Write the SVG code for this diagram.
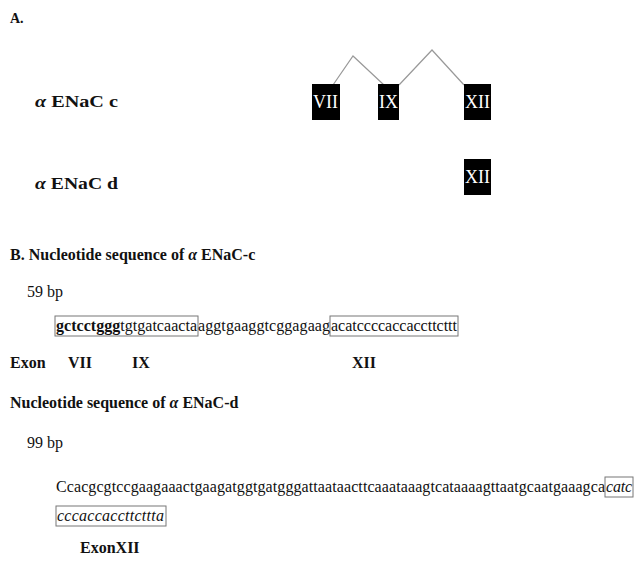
<svg xmlns="http://www.w3.org/2000/svg" width="637" height="582" viewBox="0 0 637 582">
<style>
text{font-family:"Liberation Serif","Times New Roman",serif;fill:#111}
.b{font-weight:bold}
.lbl{font-size:16px;font-weight:bold}
.seq{font-size:16px}
.it{font-style:italic}
.ex{fill:#000}
.ext{fill:#fff;font-size:18px}
.conn{fill:none;stroke:#999;stroke-width:1.2}
.sbox{fill:none;stroke:#777;stroke-width:1}
</style>
<rect width="637" height="582" fill="#fff"/>
<g id="panelA">
<text x="10" y="23" class="b" font-size="14">A.</text>
<text x="35" y="107" class="lbl" font-size="17" textLength="83" lengthAdjust="spacingAndGlyphs"><tspan class="it">α</tspan> ENaC c</text>
<text x="35" y="189" class="lbl" font-size="17" textLength="83" lengthAdjust="spacingAndGlyphs"><tspan class="it">α</tspan> ENaC d</text>
</g>
<g id="connectors">
<polyline class="conn" points="333,85 353,56 384,85"/>
<polyline class="conn" points="399,85 432,50 464,85"/>
</g>
<g id="exonVII"><rect class="ex" x="312" y="84" width="28" height="36"/><text class="ext" x="313" y="108">VII</text></g>
<g id="exonIX"><rect class="ex" x="378" y="84" width="21" height="36"/><text class="ext" x="379" y="108">IX</text></g>
<g id="exonXIIc"><rect class="ex" x="464" y="84" width="27" height="36"/><text class="ext" x="465" y="108">XII</text></g>
<g id="exonXIId"><rect class="ex" x="464" y="159" width="27" height="36"/><text class="ext" x="465" y="183">XII</text></g>
<g id="panelB">
<text x="10" y="260" class="lbl">B. Nucleotide sequence of <tspan class="it">α</tspan> ENaC-c</text>
<text x="27" y="297" class="seq">59 bp</text>
<rect class="sbox" x="55" y="316" width="143" height="20"/>
<rect class="sbox" x="330" y="316" width="128" height="20"/>
<text x="56" y="331" class="seq" textLength="141"><tspan class="b">gctcctggg</tspan>tgtgatcaacta</text>
<text x="198" y="331" class="seq" textLength="132">aggtgaaggtcggagaag</text>
<text x="331" y="331" class="seq" textLength="126">acatccccaccaccttcttt</text>
<text x="10" y="368" class="lbl">Exon</text>
<text x="68" y="368" class="lbl">VII</text>
<text x="132" y="368" class="lbl">IX</text>
<text x="352" y="368" class="lbl">XII</text>
<text x="10" y="408" class="lbl">Nucleotide sequence of <tspan class="it">α</tspan> ENaC-d</text>
<text x="27" y="448" class="seq">99 bp</text>
<text x="56" y="492" class="seq" textLength="549">Ccacgcgtccgaagaaactgaagatggtgatgggattaataacttcaaataaagtcataaaagttaatgcaatgaaagca</text>
<rect class="sbox" x="605" y="477" width="28" height="20"/>
<text x="606" y="492" class="seq it" textLength="26">catc</text>
<rect class="sbox" x="56" y="506" width="110" height="20"/>
<text x="57" y="521" class="seq it" textLength="107">cccaccaccttcttta</text>
<text x="80" y="553" class="lbl">ExonXII</text>
</g>
</svg>
